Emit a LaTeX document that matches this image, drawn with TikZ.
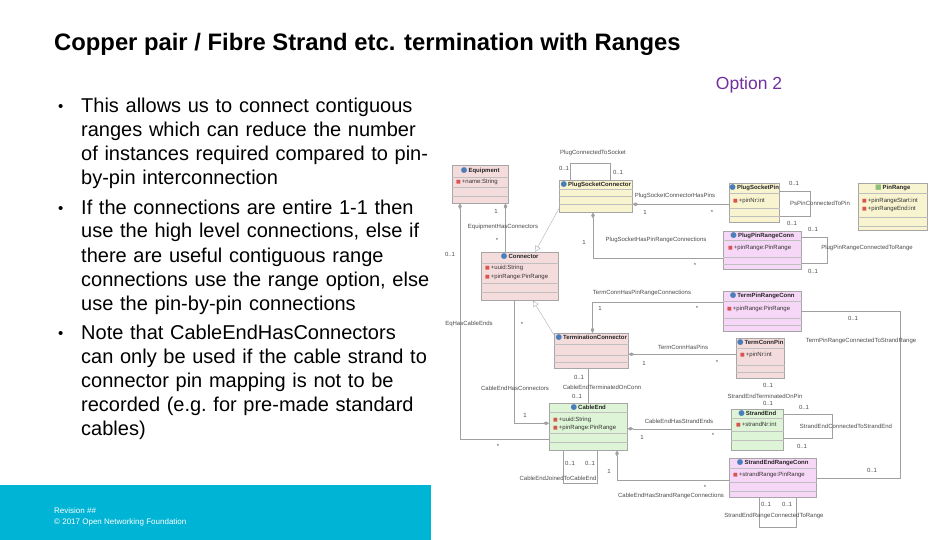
\documentclass[tikz,border=0pt]{standalone}
\usepackage{fontspec}
\setmainfont{Liberation Sans}
\newfontfamily\iconfont{DejaVu Sans}
\usepackage{tikz}
\usetikzlibrary{arrows.meta}
\usepackage{xcolor}
\definecolor{ONFCyan}{HTML}{00B4D5}
\definecolor{ONFPurple}{HTML}{7030A0}
\definecolor{UMLPink}{HTML}{F5DCDC}
\definecolor{UMLYellow}{HTML}{F8F4D0}
\definecolor{UMLViolet}{HTML}{F7D7F7}
\definecolor{UMLGreen}{HTML}{DDF4D6}
\definecolor{UMLLine}{HTML}{A0A0A0}
\definecolor{UMLBall}{HTML}{4A7EBB}
\definecolor{UMLAttr}{HTML}{D9534F}
\definecolor{UMLData}{HTML}{8DC07A}
\newcommand{\umlfont}{\fontsize{6}{7}\selectfont}
\newcommand{\clsicon}{{\iconfont\fontsize{7.5}{7.5}\selectfont\textcolor{UMLBall}{●}}\,}
\newcommand{\dticon}{{\iconfont\fontsize{7}{7}\selectfont\textcolor{UMLData}{■}}\,}
\newcommand{\atticon}{{\iconfont\fontsize{5}{5}\selectfont\textcolor{UMLAttr}{■}}\,}

\begin{document}
\begin{tikzpicture}[
    x=1pt,y=-1pt,
    slidetitle/.style={font=\fontsize{23.8}{28}\selectfont\bfseries,anchor=base west,inner sep=0},
    bullettext/.style={font=\fontsize{20}{24}\selectfont,text width=360pt,align=left,
      anchor=base west,inner sep=0},
    bulletdot/.style={font=\fontsize{15}{18}\selectfont,anchor=base west,inner sep=0},
    option/.style={font=\fontsize{17.5}{20}\selectfont,text=ONFPurple,inner sep=0},
    footnote/.style={font=\fontsize{8}{9}\selectfont,text=white,anchor=base west,inner sep=0},
    classbox/.style={draw=black!35,line width=0.5pt,anchor=north west,inner sep=0},
    compline/.style={draw=black!25,line width=0.4pt},
    clsname/.style={font=\umlfont\bfseries,inner sep=0,text=black!85},
    clsattr/.style={font=\umlfont,anchor=west,inner sep=0,text=black!80},
    lbl/.style={font=\umlfont,inner sep=0,text=black!70},
    assoc/.style={draw=UMLLine,line width=0.5pt},
    comp/.style={assoc,{Diamond[length=6pt,width=3.5pt]}-},
    compend/.style={assoc,-{Diamond[length=6pt,width=3.5pt]}},
    gen/.style={draw=black!30,line width=0.4pt,-{Triangle[open,length=6pt,width=6pt]}}
  ]
    \fill[white] (0,0) rectangle (936,540);
    \useasboundingbox (0,0) rectangle (936,540);

    % slide text
    \node[slidetitle] (title) at (54,51)
      {Copper pair / Fibre Strand etc. termination with Ranges};
    \node[option] (opt) at (749,85) {Option 2};

    \node[bulletdot] (d1) at (58,112) {\textbullet};
    \node[bullettext] (b1) at (81,113)
      {This allows us to connect contiguous\\ranges which can reduce the number\\
       of instances required compared to pin-\\by-pin interconnection};
    \node[bulletdot] (d2) at (58,213) {\textbullet};
    \node[bullettext] (b2) at (81,214)
      {If the connections are entire 1-1 then\\use the high level connections, else if\\
       there are useful contiguous range\\connections use the range option, else\\
       use the pin-by-pin connections};
    \node[bulletdot] (d3) at (58,338) {\textbullet};
    \node[bullettext] (b3) at (81,339)
      {Note that CableEndHasConnectors\\can only be used if the cable strand to\\
       connector pin mapping is not to be\\recorded (e.g.\ for pre-made standard\\cables)};

    \fill[ONFCyan] (0,485) rectangle (431,540);
    \node[footnote] (rev) at (54,513) {Revision \#\#};
    \node[footnote] (copy) at (54,524) {© 2017 Open Networking Foundation};

    % classes
    \node[classbox,fill=UMLPink,minimum width=56,minimum height=38] (equip) at (452,165) {};
    \node[clsname] (equip-n) at ([yshift=-5.5]equip.north) {\clsicon Equipment};
    \node[clsattr] (equip-a) at ([xshift=4,yshift=-17]equip.north west) {\atticon +name:String};
    \foreach \d in {12,22,31} \draw[compline] ([yshift=-\d]equip.north west) -- ([yshift=-\d]equip.north east);

    \node[classbox,fill=UMLYellow,minimum width=73,minimum height=32] (psc) at (559,180) {};
    \node[clsname] (psc-n) at ([yshift=-5]psc.north) {\clsicon PlugSocketConnector};
    \foreach \d in {9,16,24} \draw[compline] ([yshift=-\d]psc.north west) -- ([yshift=-\d]psc.north east);

    \node[classbox,fill=UMLPink,minimum width=77,minimum height=48] (conn) at (481,252) {};
    \node[clsname] (conn-n) at ([yshift=-5]conn.north) {\clsicon Connector};
    \node[clsattr] (conn-a1) at ([xshift=4,yshift=-16]conn.north west) {\atticon +uuid:String};
    \node[clsattr] (conn-a2) at ([xshift=4,yshift=-25]conn.north west) {\atticon +pinRange:PinRange};
    \foreach \d in {11,31,40} \draw[compline] ([yshift=-\d]conn.north west) -- ([yshift=-\d]conn.north east);

    \node[classbox,fill=UMLPink,minimum width=74,minimum height=35] (term) at (554,333) {};
    \node[clsname] (term-n) at ([yshift=-5]term.north) {\clsicon TerminationConnector};
    \foreach \d in {11,22,29} \draw[compline] ([yshift=-\d]term.north west) -- ([yshift=-\d]term.north east);

    \node[classbox,fill=UMLGreen,minimum width=78,minimum height=47] (cend) at (549,403) {};
    \node[clsname] (cend-n) at ([yshift=-4.5]cend.north) {\clsicon CableEnd};
    \node[clsattr] (cend-a1) at ([xshift=4,yshift=-17]cend.north west) {\atticon +uuid:String};
    \node[clsattr] (cend-a2) at ([xshift=4,yshift=-25]cend.north west) {\atticon +pinRange:PinRange};
    \foreach \d in {9,30,39} \draw[compline] ([yshift=-\d]cend.north west) -- ([yshift=-\d]cend.north east);

    \node[classbox,fill=UMLYellow,minimum width=50,minimum height=39] (pspin) at (729,183) {};
    \node[clsname] (pspin-n) at ([yshift=-5]pspin.north) {\clsicon PlugSocketPin};
    \node[clsattr] (pspin-a) at ([xshift=4,yshift=-18]pspin.north west) {\atticon +pinNr:int};
    \foreach \d in {10,25,33} \draw[compline] ([yshift=-\d]pspin.north west) -- ([yshift=-\d]pspin.north east);

    \node[classbox,fill=UMLYellow,minimum width=69,minimum height=47] (prange) at (858,183) {};
    \node[clsname] (prange-n) at ([yshift=-5]prange.north) {\dticon PinRange};
    \node[clsattr] (prange-a1) at ([xshift=4,yshift=-18]prange.north west) {\atticon +pinRangeStart:int};
    \node[clsattr] (prange-a2) at ([xshift=4,yshift=-25.5]prange.north west) {\atticon +pinRangeEnd:int};
    \foreach \d in {10,34,43} \draw[compline] ([yshift=-\d]prange.north west) -- ([yshift=-\d]prange.north east);

    \node[classbox,fill=UMLViolet,minimum width=78,minimum height=38] (pprc) at (723,231) {};
    \node[clsname] (pprc-n) at ([yshift=-5]pprc.north) {\clsicon PlugPinRangeConn};
    \node[clsattr] (pprc-a) at ([xshift=5,yshift=-16.5]pprc.north west) {\atticon +pinRange:PinRange};
    \foreach \d in {9,26,33} \draw[compline] ([yshift=-\d]pprc.north west) -- ([yshift=-\d]pprc.north east);

    \node[classbox,fill=UMLViolet,minimum width=78,minimum height=40] (tprc) at (723,291) {};
    \node[clsname] (tprc-n) at ([yshift=-5]tprc.north) {\clsicon TermPinRangeConn};
    \node[clsattr] (tprc-a) at ([xshift=4,yshift=-17.5]tprc.north west) {\atticon +pinRange:PinRange};
    \foreach \d in {10,27,34} \draw[compline] ([yshift=-\d]tprc.north west) -- ([yshift=-\d]tprc.north east);

    \node[classbox,fill=UMLPink,minimum width=48,minimum height=40] (tcpin) at (736,338) {};
    \node[clsname] (tcpin-n) at ([yshift=-5]tcpin.north) {\clsicon TermConnPin};
    \node[clsattr] (tcpin-a) at ([xshift=4,yshift=-17]tcpin.north west) {\atticon +pinNr:int};
    \foreach \d in {10,27,34} \draw[compline] ([yshift=-\d]tcpin.north west) -- ([yshift=-\d]tcpin.north east);

    \node[classbox,fill=UMLGreen,minimum width=52,minimum height=41] (send) at (731,409) {};
    \node[clsname] (send-n) at ([yshift=-4.5]send.north) {\clsicon StrandEnd};
    \node[clsattr] (send-a) at ([xshift=5,yshift=-16]send.north west) {\atticon +strandNr:int};
    \foreach \d in {9,22,31} \draw[compline] ([yshift=-\d]send.north west) -- ([yshift=-\d]send.north east);

    \node[classbox,fill=UMLViolet,minimum width=87,minimum height=39] (serc) at (729,458) {};
    \node[clsname] (serc-n) at ([yshift=-4.5]serc.north) {\clsicon StrandEndRangeConn};
    \node[clsattr] (serc-a) at ([xshift=4,yshift=-16.5]serc.north west) {\atticon +strandRange:PinRange};
    \foreach \d in {10,24,33} \draw[compline] ([yshift=-\d]serc.north west) -- ([yshift=-\d]serc.north east);

    % generalisations
    \draw[gen] ([yshift=4]psc.south west) -- ([xshift=54]conn.north west);
    \draw[gen] ([yshift=-2]term.north west) -- ([xshift=52]conn.south west);

    % associations
    \draw[assoc] ([xshift=11]psc.north west) -- ++(0,-17) -| ([xshift=51]psc.north west);
    \draw[comp] ([yshift=-8]psc.east) -- ([yshift=-8]psc.east -| pspin.west);
    \draw[comp] ([xshift=34]psc.south west) |- ([yshift=-8]pprc.west);
    \draw[comp] ([xshift=-3]equip.south east) -- ([xshift=-3]equip.south east |- conn.north);
    \draw[comp] ([xshift=8]equip.south west) |- ([yshift=-12.5]cend.west);
    \draw[compend] ([xshift=33]conn.south west) |- ([yshift=3.5]cend.west);
    \draw[comp] ([xshift=38.5]term.north west) |- ([yshift=9]tprc.west);
    \draw[comp] ([yshift=-3.5]term.east) -- ([yshift=-3.5]term.east -| tcpin.west);
    \draw[assoc] ([xshift=34]term.south west) -- ([xshift=34]term.south west |- cend.north);
    \draw[assoc] ([yshift=-8.5]pspin.north east) -- ++(31,0) |- ([yshift=-33]pspin.north east);
    \draw[assoc] ([yshift=-6]pprc.north east) -- ++(26,0) |- ([yshift=-32]pprc.north east);
    \draw[assoc] (tprc.east) -- ++(99,0) |- (serc.east);
    \draw[assoc] ([yshift=-5]send.north east) -- ++(49,0) |- ([yshift=-29]send.north east);
    \draw[comp] ([yshift=-2]cend.east) -- ([yshift=-2]cend.east -| send.west);
    \draw[assoc] ([xshift=14]cend.south west) -- ++(0,33) -| ([xshift=48]cend.south west);
    \draw[comp] ([xshift=68]cend.south west) |- ([yshift=-2.5]serc.west);
    \draw[assoc] ([xshift=30]serc.south west) -- ++(0,30) -| ([xshift=67]serc.south west);

    % association labels
    \node[lbl] (pcs) at (593,153) {PlugConnectedToSocket};
    \node[lbl] (pcs-m1) at (564,168) {0..1}; \node[lbl] (pcs-m2) at (618,172) {0..1};
    \node[lbl] (pscp) at (675,196) {PlugSocketConnectorHasPins};
    \node[lbl] (pscp-m1) at (645,212) {1}; \node[lbl] (pscp-m2) at (712,212) {*};
    \node[lbl] (pshr) at (656,240) {PlugSocketHasPinRangeConnections};
    \node[lbl] (pshr-m1) at (584,242) {1}; \node[lbl] (pshr-m2) at (695,265) {*};
    \node[lbl] (ehc) at (503,227) {EquipmentHasConnectors};
    \node[lbl] (ehc-m1) at (496,211) {1}; \node[lbl] (ehc-m2) at (497,240) {*};
    \node[lbl] (ehce) at (469,324) {EqHasCableEnds};
    \node[lbl] (ehce-m1) at (450,254) {0..1}; \node[lbl] (ehce-m2) at (498,446) {*};
    \node[lbl] (cehc) at (515,388) {CableEndHasConnectors};
    \node[lbl] (cehc-m1) at (522,324) {*}; \node[lbl] (cehc-m2) at (525,415) {1};
    \node[lbl] (tchr) at (642,293) {TermConnHasPinRangeConnections};
    \node[lbl] (tchr-m1) at (600,308) {1}; \node[lbl] (tchr-m2) at (697,308) {*};
    \node[lbl] (tchp) at (683,347) {TermConnHasPins};
    \node[lbl] (tchp-m1) at (644,363) {1}; \node[lbl] (tchp-m2) at (717,362) {*};
    \node[lbl] (cetc) at (602,387) {CableEndTerminatedOnConn};
    \node[lbl] (cetc-m1) at (579,377) {0..1}; \node[lbl] (cetc-m2) at (577,396) {0..1};
    \node[lbl] (setp) at (765,396) {StrandEndTerminatedOnPin};
    \node[lbl] (setp-m1) at (768,385) {0..1}; \node[lbl] (setp-m2) at (768,403) {0..1};
    \node[lbl] (ppcp) at (820,203) {PsPinConnectedToPin};
    \node[lbl] (ppcp-m1) at (794,183) {0..1}; \node[lbl] (ppcp-m2) at (792,223) {0..1};
    \node[lbl] (pprr) at (867,248) {PlugPinRangeConnectedToRange};
    \node[lbl] (pprr-m1) at (813,229) {0..1}; \node[lbl] (pprr-m2) at (813,271) {0..1};
    \node[lbl] (tprs) at (861,341) {TermPinRangeConnectedToStrandRange};
    \node[lbl] (tprs-m1) at (853,318) {0..1}; \node[lbl] (tprs-m2) at (872,470) {0..1};
    \node[lbl] (secs) at (846,426) {StrandEndConnectedToStrandEnd};
    \node[lbl] (secs-m1) at (804,407) {0..1}; \node[lbl] (secs-m2) at (802,446) {0..1};
    \node[lbl] (cehs) at (679,421) {CableEndHasStrandEnds};
    \node[lbl] (cehs-m1) at (642,437) {1}; \node[lbl] (cehs-m2) at (713,435) {*};
    \node[lbl] (cejc) at (558,478) {CableEndJoinedToCableEnd};
    \node[lbl] (cejc-m1) at (570,463) {0..1}; \node[lbl] (cejc-m2) at (590,463) {0..1};
    \node[lbl] (cesr) at (671,496) {CableEndHasStrandRangeConnections};
    \node[lbl] (cesr-m1) at (609,471) {1}; \node[lbl] (cesr-m2) at (705,487) {*};
    \node[lbl] (serr) at (774,516) {StrandEndRangeConnectedToRange};
    \node[lbl] (serr-m1) at (766,504) {0..1}; \node[lbl] (serr-m2) at (787,504) {0..1};
\end{tikzpicture}
\end{document}
